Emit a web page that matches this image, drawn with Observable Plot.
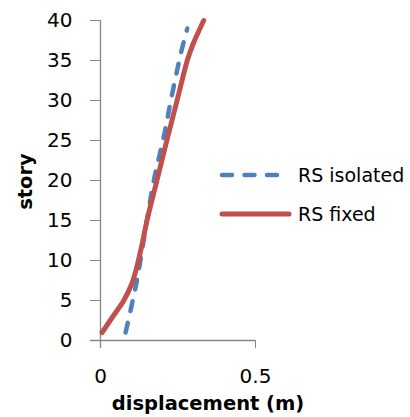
<!DOCTYPE html>
<html>
<head>
<meta charset="utf-8">
<script src="https://cdn.jsdelivr.net/npm/d3@7"></script>
<script src="https://cdn.jsdelivr.net/npm/@observablehq/plot@0.6"></script>
<style>
  html, body { margin: 0; padding: 0; background: white; }
  #wrap { position: relative; width: 410px; height: 417px; }
  #legend { position: absolute; left: 0; top: 0; }
</style>
</head>
<body>
<div id="wrap"></div>
<script>
// Data
const seriesNames = ["RS isolated", "RS fixed"];
const isolatedStory = [1, 5, 8, 12, 16, 20, 26, 30, 36, 39];
const isolatedDisp  = [0.081, 0.104, 0.120, 0.137, 0.154, 0.172, 0.207, 0.227, 0.260, 0.280];
const fixedStory = [1, 3, 5, 7, 9, 12, 15, 20, 25, 30, 35, 37, 40];
const fixedDisp  = [0.005, 0.040, 0.075, 0.100, 0.116, 0.134, 0.150, 0.182, 0.214, 0.247, 0.280, 0.298, 0.333];
const xTicks = [0, 0.5];
const yTicks = [0, 5, 10, 15, 20, 25, 30, 35, 40];
const xTitle = "displacement (m)";
const yTitle = "story";

const isolated = isolatedStory.map((s, i) => ({s, d: isolatedDisp[i]}));
const fixed = fixedStory.map((s, i) => ({s, d: fixedDisp[i]}));

const axisGray = "#868686";
const blue = "#4F81BD";
const red = "#C0504D";
const font = "'DejaVu Sans', sans-serif";

const chart = Plot.plot({
  width: 410,
  height: 417,
  marginLeft: 100,
  marginRight: 155,
  marginTop: 20,
  marginBottom: 77,
  style: {fontFamily: font, fontSize: "20px", color: "black", background: "white"},
  x: {domain: [0, 0.5]},
  y: {domain: [0, 40]},
  marks: [
    Plot.ruleX([0], {stroke: axisGray, strokeWidth: 1.3, insetBottom: -8}),
    Plot.ruleY([0], {stroke: axisGray, strokeWidth: 1.3, insetLeft: -10}),
    Plot.axisY({ticks: yTicks, tickSize: 10, tickPadding: 18, stroke: axisGray, fill: "black", label: null, fontSize: 20}),
    Plot.axisX({ticks: xTicks, tickSize: 8, tickPadding: 20, stroke: axisGray, fill: "black", label: null, fontSize: 20, tickFormat: d => String(d)}),
    Plot.line(isolated, {x: "d", y: "s", stroke: blue, strokeWidth: 4.5, strokeDasharray: "10,12", strokeLinecap: "round", curve: "catmull-rom"}),
    Plot.line(fixed, {x: "d", y: "s", stroke: red, strokeWidth: 5, strokeLinecap: "round", curve: "catmull-rom"}),
    Plot.text([xTitle], {frameAnchor: "bottom", textAnchor: "middle", dx: 30, dy: 63, fontWeight: "bold", fontSize: 19.5, lineAnchor: "middle", fill: "black"}),
    Plot.text([yTitle], {frameAnchor: "left", textAnchor: "middle", dx: -75, dy: 1, rotate: -90, fontWeight: "bold", fontSize: 19.5, lineAnchor: "middle", fill: "black"})
  ]
});
document.getElementById("wrap").appendChild(chart);

// Legend overlay
const legendItems = [
  {name: seriesNames[0], color: blue, dash: "10,12.5", width: 4.5},
  {name: seriesNames[1], color: red, dash: null, width: 5}
];
const lg = d3.select("#wrap").append("svg")
  .attr("id", "legend").attr("width", 410).attr("height", 417)
  .style("font-family", font).style("font-size", "19px");
const rows = lg.selectAll("g").data(legendItems).join("g")
  .attr("transform", (d, i) => `translate(0, ${175 + i * 39})`);
rows.append("line")
  .attr("x1", 222).attr("x2", (d, i) => i === 0 ? 279 : 289)
  .attr("y1", 0).attr("y2", 0)
  .attr("stroke", d => d.color).attr("stroke-width", d => d.width)
  .attr("stroke-linecap", "round")
  .attr("stroke-dasharray", d => d.dash);
rows.append("text")
  .attr("x", 298).attr("y", 0).attr("dy", "0.35em")
  .text(d => d.name);
</script>
</body>
</html>
